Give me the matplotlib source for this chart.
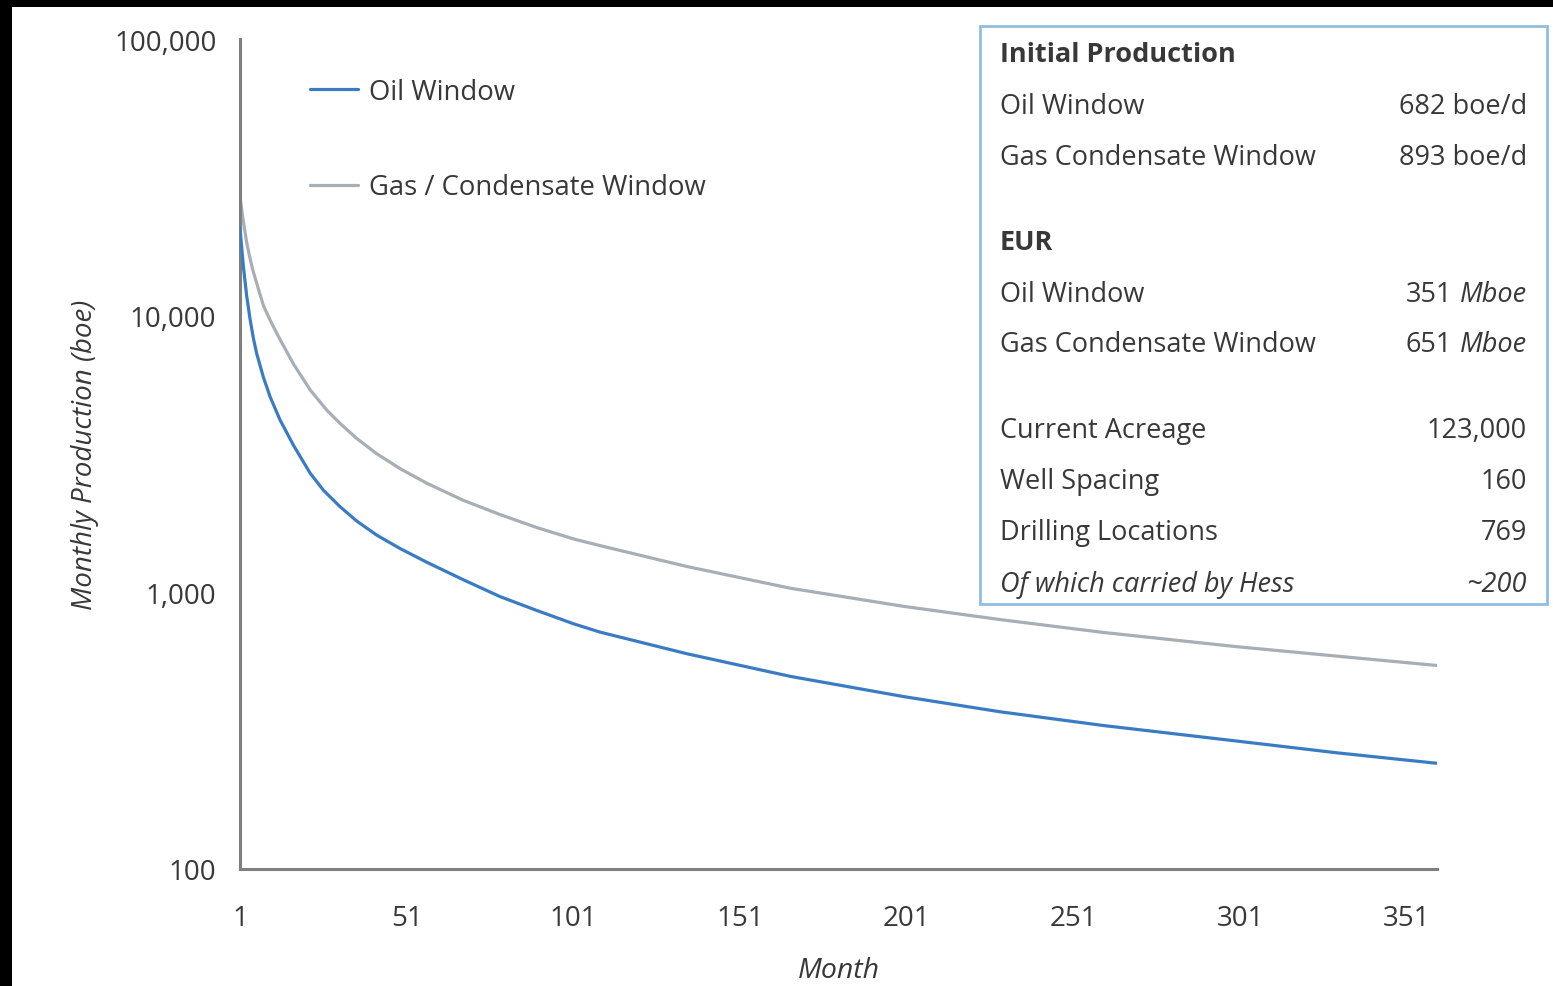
import matplotlib
matplotlib.use("Agg")
import matplotlib.pyplot as plt
from matplotlib.patches import Rectangle
from matplotlib.ticker import FixedLocator, FuncFormatter, NullLocator

plt.rcParams['font.family'] = ['Open Sans', 'Noto Sans', 'DejaVu Sans']

# ---- data ----
oil_months = [1, 2, 3, 4, 5, 6, 8, 10, 13, 17, 22, 26, 31, 36, 42, 49, 57, 68, 79, 90,
              101, 109, 135, 166, 200, 229, 260, 300, 330, 360]
oil_values = [20700, 15100, 11800, 9750, 8300, 7300, 6000, 5100, 4200, 3406, 2700, 2340,
              2040, 1810, 1610, 1440, 1285, 1110, 965, 860, 770, 718, 600, 497, 420, 370,
              330, 290, 263, 241]

gas_months = [1, 2, 3, 4, 5, 6, 8, 10, 12, 14, 17, 22, 27, 31, 36, 42, 49, 57, 68, 79, 90,
              101, 109, 135, 166, 200, 229, 260, 300, 330, 360]
gas_values = [26900, 21900, 18400, 16100, 14400, 13100, 10900, 9650, 8650, 7800, 6700, 5400,
              4560, 4080, 3600, 3170, 2800, 2480, 2150, 1910, 1715, 1560, 1475, 1240, 1035,
              890, 797, 716, 636, 588, 544]

series_names = ["Oil Window", "Gas / Condensate Window"]

x_ticks = [1, 51, 101, 151, 201, 251, 301, 351]
y_ticks = [100, 1000, 10000, 100000]

table_labels = ["Initial Production", "Oil Window", "Gas Condensate Window",
                "EUR", "Oil Window", "Gas Condensate Window",
                "Current Acreage", "Well Spacing", "Drilling Locations",
                "Of which carried by Hess"]
table_numbers = ["", "682 boe/d", "893 boe/d", "", "351", "651",
                 "123,000", "160", "769", "~200"]
table_units = ["", "", "", "", "Mboe", "Mboe", "", "", "", ""]
table_styles = ["header", "row", "row", "header", "row", "row",
                "row", "row", "row", "italic"]

# ---- layout ----
W, H = 1553, 987
fig = plt.figure(figsize=(W / 100, H / 100), dpi=100)
fig.patch.set_facecolor("white")

def fx(x):
    return x / W

def fy(y):
    return 1 - y / H

ax_l, ax_r, ax_t, ax_b = 240, 1437, 40, 870
ax = fig.add_axes([fx(ax_l), fy(ax_b), fx(ax_r) - fx(ax_l), fy(ax_t) - fy(ax_b)])

oil_color = "#3a7cc4"
gas_color = "#a7aeb5"
text_color = "#383838"
axis_color = "#7f7f7f"

ax.plot(gas_months, gas_values, color=gas_color, lw=2.3, label=series_names[1], zorder=2,
        solid_joinstyle="round", solid_capstyle="round")
ax.plot(oil_months, oil_values, color=oil_color, lw=2.3, label=series_names[0], zorder=3,
        solid_joinstyle="round", solid_capstyle="round")

ax.set_yscale("log")
ax.set_ylim(100, 100000)
ax.set_xlim(1, 360)

ax.yaxis.set_major_locator(FixedLocator(y_ticks))
ax.yaxis.set_minor_locator(NullLocator())
ax.yaxis.set_major_formatter(FuncFormatter(lambda v, p: f"{v:,.0f}"))
ax.xaxis.set_major_locator(FixedLocator(x_ticks))
ax.xaxis.set_minor_locator(NullLocator())

for s in ["top", "right"]:
    ax.spines[s].set_visible(False)
for s in ["left", "bottom"]:
    ax.spines[s].set_color(axis_color)
    ax.spines[s].set_linewidth(2.2)

ax.tick_params(axis="both", length=0, labelsize=20, colors=text_color)
ax.tick_params(axis="y", pad=17)
ax.tick_params(axis="x", pad=25)

axw = ax_r - ax_l
axh = ax_b - ax_t
ax.set_ylabel("Monthly Production (boe)", fontsize=20, style="italic", color=text_color)
ax.yaxis.set_label_coords((99 - ax_l) / axw, 0.5)

ax.set_xlabel("Month", fontsize=20.5, style="italic", color=text_color)
ax.xaxis.set_label_coords(0.5, (ax_b - 957) / axh)

handles, labels = ax.get_legend_handles_labels()
order = [labels.index(series_names[0]), labels.index(series_names[1])]
leg = ax.legend([handles[i] for i in order], [labels[i] for i in order],
                loc="upper left", bbox_to_anchor=(fx(310), fy(79)),
                bbox_transform=fig.transFigure, frameon=False, fontsize=19.8,
                handlelength=1.75, handletextpad=0.38, labelspacing=2.45,
                borderpad=0, borderaxespad=0)
for t in leg.get_texts():
    t.set_color(text_color)

# ---- info box ----
box = Rectangle((fx(980), fy(605)), fx(1547) - fx(980), fy(27) - fy(605),
                transform=fig.transFigure, facecolor="white", edgecolor="#8fbede",
                lw=2, zorder=5)
fig.patches.append(box)

row_y = [55, 107, 158, 243, 295, 345, 431, 482, 533, 585]
tfs = 19.5
unit_texts = []
for lab, num, unit, sty, yy in zip(table_labels, table_numbers, table_units, table_styles, row_y):
    weight = "bold" if sty == "header" else "normal"
    style = "italic" if sty == "italic" else "normal"
    fig.text(fx(1000), fy(yy), lab, ha="left", va="center", fontsize=tfs,
             fontweight=weight, style=style, color=text_color, zorder=6)
    if unit:
        ut = fig.text(fx(1527), fy(yy), unit, ha="right", va="center", fontsize=tfs,
                      style="italic", color=text_color, zorder=6)
        unit_texts.append((ut, num, yy))
    elif num:
        fig.text(fx(1527), fy(yy), num, ha="right", va="center", fontsize=tfs,
                 style=style, color=text_color, zorder=6)

# numbers placed just left of their italic unit
fig.canvas.draw()
renderer = fig.canvas.get_renderer()
for ut, num, yy in unit_texts:
    bb = ut.get_window_extent(renderer=renderer)
    fig.text(fx(bb.x0 - 8), fy(yy), num, ha="right", va="center", fontsize=tfs,
             color=text_color, zorder=6)

# ---- black screenshot edges ----
fig.patches.append(Rectangle((0, fy(8)), 1, fy(0) - fy(8), transform=fig.transFigure,
                             facecolor="black", edgecolor="none", zorder=10))
fig.patches.append(Rectangle((0, 0), fx(12), 1, transform=fig.transFigure,
                             facecolor="black", edgecolor="none", zorder=10))

fig.savefig("out.png", dpi=100, facecolor="white")
